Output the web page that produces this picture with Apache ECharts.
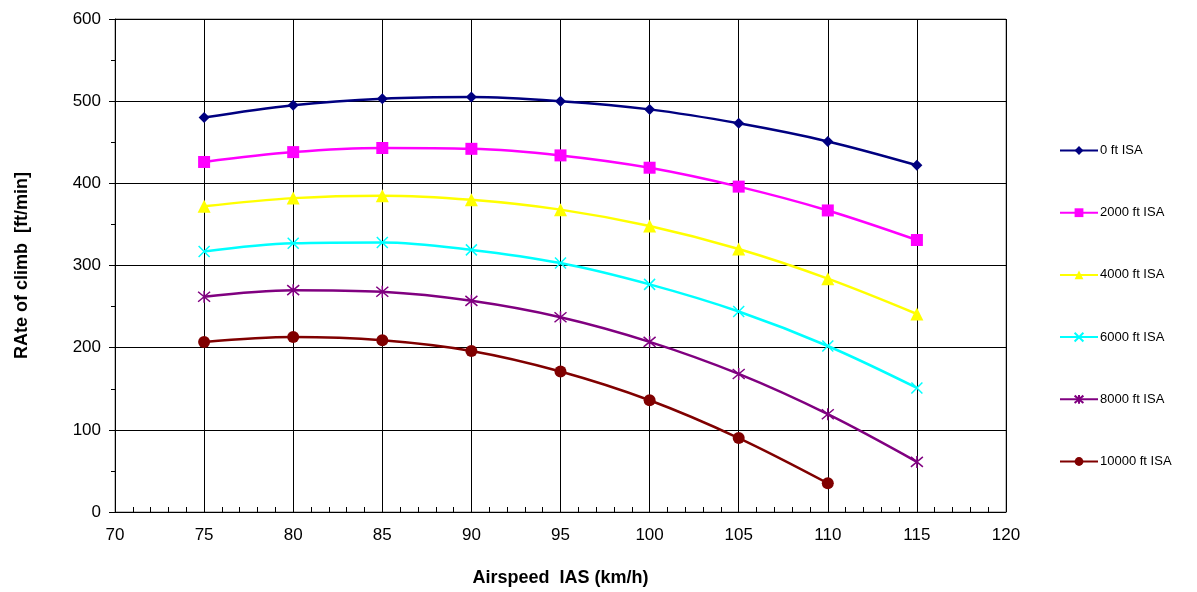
<!DOCTYPE html>
<html><head><meta charset="utf-8">
<script src="https://cdn.jsdelivr.net/npm/echarts@6/dist/echarts.min.js"></script>
<style>html,body{margin:0;padding:0;background:#fff}#c{width:1197px;height:592px}</style>
</head><body><div id="c"></div>
<script>
const airspeed = [75, 80, 85, 90, 95, 100, 105, 110, 115];
const seriesNames = ['0 ft ISA', '2000 ft ISA', '4000 ft ISA', '6000 ft ISA', '8000 ft ISA', '10000 ft ISA'];
const roc0 = [480, 495, 503, 505, 500, 490, 473, 451, 422];
const roc2000 = [426, 438, 443, 442, 434, 419, 396, 367, 331];
const roc4000 = [372, 382, 385, 380, 368, 348, 320, 284, 241];
const roc6000 = [317, 327, 328, 319, 303, 277, 244, 202, 151];
const roc8000 = [262, 270, 268, 257, 237, 207, 168, 119, 61];
const roc10000 = [207, 213, 209, 196, 171, 136, 90, 35];
const xTicks = [70, 75, 80, 85, 90, 95, 100, 105, 110, 115, 120];
const yTicks = [0, 100, 200, 300, 400, 500, 600];

const allData = [roc0, roc2000, roc4000, roc6000, roc8000, roc10000];
const colors = ['#000080', '#ff00ff', '#ffff00', '#00ffff', '#800080', '#800000'];
const xPath = 'path://M0,0L10,10M10,0L0,10';
const astPath = 'path://M0,0L10,10M10,0L0,10M5,-1L5,11';
const symbols = ['diamond', 'rect', 'triangle', xPath, astPath, 'circle'];
const sizes = [11, 12, 13, 11, 12, 12];

const series = allData.map((arr, i) => {
  const isPath = i === 3 || i === 4;
  return {
    name: seriesNames[i],
    type: 'line',
    smooth: 0.35,
    data: arr.map((v, j) => [airspeed[j], v]),
    symbol: symbols[i],
    symbolSize: sizes[i],
    showAllSymbol: true,
    lineStyle: { color: colors[i], width: 2.5 },
    itemStyle: isPath ? { color: 'rgba(0,0,0,0)', borderColor: colors[i], borderWidth: 1.5 } : { color: colors[i] },
    color: colors[i],
    emphasis: { disabled: true },
    z: 3 + i
  };
});

const chart = echarts.init(document.getElementById('c'), null, { renderer: 'canvas' });
chart.setOption({
  animation: false,
  backgroundColor: '#ffffff',
  textStyle: { fontFamily: 'Liberation Sans, Arial, sans-serif' },
  grid: { left: 115, right: 191, top: 19, bottom: 79, show: true, borderColor: '#808080', borderWidth: 1 },
  legend: {
    orient: 'vertical',
    left: 1054,
    top: 139,
    itemWidth: 38,
    itemHeight: 11,
    itemGap: 49.2,
    textStyle: { fontSize: 13, color: '#000', fontFamily: 'Liberation Sans, Arial, sans-serif', padding: [0, 0, 0, -3] },
    data: seriesNames
  },
  xAxis: {
    type: 'value',
    min: xTicks[0],
    max: xTicks[xTicks.length - 1],
    interval: 5,
    name: 'Airspeed  IAS (km/h)',
    nameLocation: 'middle',
    nameGap: 57,
    nameTextStyle: { fontSize: 18, fontWeight: 'bold', color: '#000' },
    axisLine: { onZero: false, lineStyle: { color: '#000', width: 1 } },
    axisTick: { show: true, inside: true, length: 5, lineStyle: { color: '#000' } },
    minorTick: { show: true, splitNumber: 5, length: 5, lineStyle: { color: '#000' } },
    axisLabel: { fontSize: 17, color: '#000', margin: 15 },
    splitLine: { show: true, lineStyle: { color: '#000', width: 1 } }
  },
  yAxis: {
    type: 'value',
    min: yTicks[0],
    max: yTicks[yTicks.length - 1],
    interval: 100,
    name: 'RAte of climb  [ft/min]',
    nameLocation: 'middle',
    nameGap: 84,
    nameRotate: 90,
    nameTextStyle: { fontSize: 18, fontWeight: 'bold', color: '#000' },
    axisLine: { show: true, lineStyle: { color: '#000', width: 1 } },
    axisTick: { show: true, inside: false, length: 6, lineStyle: { color: '#000' } },
    minorTick: { show: true, splitNumber: 2, length: 4, lineStyle: { color: '#000' } },
    axisLabel: { fontSize: 17, color: '#000', margin: 14 },
    splitLine: { show: true, lineStyle: { color: '#000', width: 1 } }
  },
  series: series
});
</script>
</body></html>
